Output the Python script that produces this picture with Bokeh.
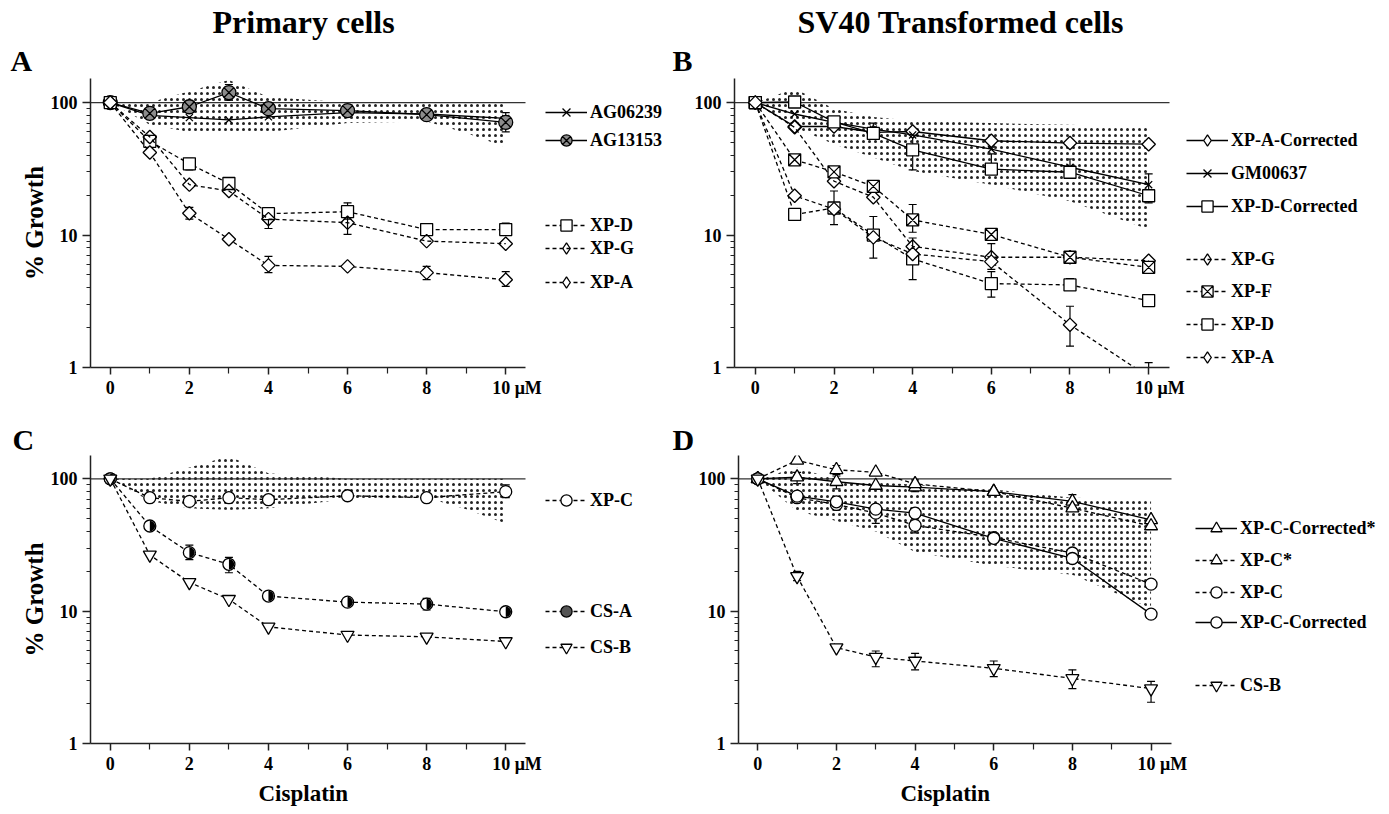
import math
from bokeh.plotting import figure
from bokeh.models import (Range1d, FixedTicker, BasicTickFormatter, Whisker, TeeHead,
                          ColumnDataSource, Legend, LegendItem, Title)
from bokeh.layouts import column, row
from bokeh.embed import file_html
from bokeh.resources import INLINE

# ---------------- data ----------------
DOSE = [0, 1, 2, 3, 4, 6, 8, 10]
X_TICKS = [0, 2, 4, 6, 8, 10]
X_MINOR = [1, 3, 5, 7, 9]
X_LABELS = {10: "\u2007\u2007 10 μM"}
Y_TICKS = [1, 10, 100]
Y_MINOR = [2, 3, 4, 5, 6, 7, 8, 9, 20, 30, 40, 50, 60, 70, 80, 90]
REF_LEVEL = 100

# normal-range bands
PRIM_X = [0, 1, 2, 3, 4, 6, 8, 9, 10]
PRIM_LO = [100, 68, 60, 58, 60, 70, 72, 59, 46]
PRIM_HI = [100, 100, 122, 148, 110, 100, 100, 100, 100]
SVB_X = [0, 1, 2, 3, 4, 6, 8, 10]
SVB_LO = [100, 65, 48.5, 38.5, 30.5, 24, 18, 11]
SVB_HI = [100, 128, 90, 78, 73, 70, 68, 65]
SVD_X = [0, 1, 2, 3, 4, 6, 8, 10]
SVD_LO = [100, 57, 48, 40, 28, 22, 18.8, 10.5]
SVD_HI = [100, 121, 99, 94, 90, 83, 72, 70]

# Panel A - primary cells
A_AG06239 = [100, 80, 77, 74, 78, 84, 82, 76]
A_AG13153 = [100, 83, 93, 119, 90, 87, 81, 71]
A_AG13153_LO = [None, None, 85, 104, None, None, None, 60]
A_AG13153_HI = [None, None, 102, 137, None, None, None, 84]
A_XPD = [100, 51, 34.5, 24.5, 14.5, 15.0, 11.0, 11.0]
A_XPD_LO = [None, None, 31, 22.5, None, 13.2, None, 10]
A_XPD_HI = [None, None, 38, 26.5, None, 17.5, None, 12.3]
A_XPG = [100, 55, 24, 21.5, 13.2, 12.4, 9.0, 8.6]
A_XPG_LO = [None, None, None, None, 11.2, 10.1, None, None]
A_XPG_HI = [None, None, None, None, 15.3, 14.8, None, None]
A_XPA = [100, 42, 14.6, 9.3, 5.9, 5.8, 5.2, 4.6]
A_XPA_LO = [None, None, 13.2, None, 5.2, None, 4.6, 4.1]
A_XPA_HI = [None, None, 16.2, None, 6.9, None, 5.8, 5.3]

# Panel B - SV40 transformed cells
B_XPACOR = [100, 66, 66, 59.5, 60.5, 51.5, 49.5, 48.5]
B_GM00637 = [100, 82, 71, 63, 57, 44.5, 32.5, 24]
B_GM_LO = [None, None, None, 57, None, None, 29, 20]
B_GM_HI = [None, None, None, 70, None, None, 37.5, 29]
B_XPDCOR = [100, 101, 71.5, 58.5, 44, 31.5, 29.8, 19.8]
B_XPDCOR_LO = [None, None, None, None, 31, 29, None, 17.5]
B_XPDCOR_HI = [None, None, None, None, 57, 41, None, 22]
B_XPG = [100, 65, 25.5, 19.3, 8.2, 6.8, 6.8, 6.4]
B_XPF = [100, 37, 30, 23.3, 13.0, 10.1, 6.8, 5.7]
B_XPF_LO = [None, None, None, None, 10.5, None, None, None]
B_XPF_HI = [None, None, None, None, 17, None, None, None]
B_XPD = [100, 14.3, 16, 10.0, 6.6, 4.3, 4.2, 3.2]
B_XPD_LO = [None, None, 12, 6.7, 4.6, 3.4, 3.9, None]
B_XPD_HI = [None, None, 21.5, 13.8, 9.5, 5.3, 4.7, None]
B_XPA = [100, 19.8, 15.7, 9.6, 7.2, 6.3, 2.1, 0.85]
B_XPA_LO = [None, None, None, None, None, 5.5, 1.45, 0.6]
B_XPA_HI = [None, None, None, None, None, 8.6, 2.9, 1.09]

# Panel C - primary cells
C_XPC = [100, 72, 67.5, 72, 69.5, 74.5, 72, 80]
C_XPC_LO = [None, None, None, None, None, None, None, 72]
C_XPC_HI = [None, None, None, None, None, None, None, 90]
C_CSA = [100, 44, 27.7, 22.6, 13.0, 11.7, 11.3, 9.9]
C_CSA_LO = [None, None, 24.5, 19.5, None, 11.0, 10.2, 9.2]
C_CSA_HI = [None, None, 31.5, 25.5, None, 12.4, 12.5, 10.6]
C_CSB = [100, 26.6, 16.5, 12.3, 7.6, 6.6, 6.4, 5.9]

# Panel D - SV40 transformed cells
D_XPCCORSTAR = [100, 103, 95, 89, 86.5, 80, 67.5, 49]
D_XPCCORSTAR_LO = [None, 92, 84, None, None, None, 60, None]
D_XPCCORSTAR_HI = [None, 112, 105, None, None, None, 76, None]
D_XPCSTAR = [100, 138, 117, 112, 91.5, 80, 60, 44]
D_XPCSTAR_LO = [None, None, 108, None, 80, None, None, None]
D_XPCSTAR_HI = [None, None, 126, None, 98, None, None, None]
D_XPC = [100, 72, 64, 55, 44.5, 36, 27.5, 16]
D_XPC_LO = [None, None, 58, 46, 39, None, None, None]
D_XPC_HI = [None, None, 72, 61, 50, None, None, None]
D_XPCCOR = [100, 74, 67, 59, 55, 35.5, 25, 9.5]
D_CSB = [100, 18.3, 5.3, 4.5, 4.2, 3.7, 3.1, 2.6]
D_CSB_LO = [None, 17, None, 3.8, 3.6, 3.2, 2.6, 2.05]
D_CSB_HI = [None, 20, None, 5.0, 4.8, 4.2, 3.6, 2.95]

# ---------------- styling ----------------
FONT = "Liberation Serif"
DASH = "4 3"
SOLID = "solid"
INK = "black"


def make_fig(fw_axis, extra, fh, x0, x1, yr, bl, bt, bb, ylabel=None):
    scale = fw_axis / (x1 - x0)
    fw = fw_axis + extra
    xr = (x0, x0 + fw / scale)
    p = figure(frame_width=fw, frame_height=fh, x_range=Range1d(*xr), y_range=Range1d(*yr),
               y_axis_type="log", output_backend="svg", toolbar_location=None,
               min_border_left=bl, min_border_right=0, min_border_top=bt, min_border_bottom=bb)
    p.outline_line_color = None
    p.grid.visible = False
    p.background_fill_color = "white"
    p.border_fill_color = "white"
    xa = p.xaxis[0]
    xa.bounds = (x0, x1)
    xa.ticker = FixedTicker(ticks=X_TICKS, minor_ticks=X_MINOR)
    xa.major_label_overrides = X_LABELS
    xa.major_tick_out = 7
    xa.major_tick_in = 0
    xa.minor_tick_out = 6
    xa.minor_tick_in = 0
    xa.major_label_standoff = 3
    ya = p.yaxis[0]
    ya.ticker = FixedTicker(ticks=Y_TICKS, minor_ticks=Y_MINOR)
    ya.formatter = BasicTickFormatter()
    ya.major_tick_out = 8
    ya.major_tick_in = 0
    ya.minor_tick_out = 4
    ya.minor_tick_in = 0
    ya.major_label_standoff = 5
    for ax in (xa, ya):
        ax.axis_line_color = "#222"
        ax.axis_line_width = 1.5
        ax.major_tick_line_color = "#222"
        ax.major_tick_line_width = 1.5
        ax.minor_tick_line_color = "#222"
        ax.minor_tick_line_width = 1.2
        ax.major_label_text_font = FONT
        ax.major_label_text_font_style = "bold"
        ax.major_label_text_font_size = "18px"
        ax.major_label_text_color = "black"
    if ylabel:
        ya.axis_label = ylabel
        ya.axis_label_text_font = FONT
        ya.axis_label_text_font_style = "bold"
        ya.axis_label_text_font_size = "25px"
        ya.axis_label_text_color = "black"
        ya.axis_label_standoff = 0
    # 100 % reference line across the axis extent
    p.segment(x0=[x0], x1=[x1], y0=[REF_LEVEL], y1=[REF_LEVEL], line_color="#333", line_width=1.3)
    return p


def add_band(p, bx, lo, hi):
    p.varea(x=bx, y1=lo, y2=hi, fill_color="white", fill_alpha=0,
            hatch_pattern="dot", hatch_color="#222", hatch_scale=6, hatch_weight=1.1,
            hatch_alpha=1.0)


def add_series(p, y, marker, dash, size=12, fill="white", lo=None, hi=None, half=False):
    src = ColumnDataSource(dict(x=DOSE, y=y))
    r_line = p.line("x", "y", source=src, line_color=INK, line_width=1.3, line_dash=dash)
    if lo is not None:
        pts = [(d, a, b) for d, a, b in zip(DOSE, lo, hi) if a is not None]
        esrc = ColumnDataSource(dict(base=[t[0] for t in pts], lower=[t[1] for t in pts],
                                     upper=[t[2] for t in pts]))
        p.add_layout(Whisker(source=esrc, base="base", lower="lower", upper="upper",
                             dimension="height", line_color=INK, line_width=1.2,
                             upper_head=TeeHead(size=8, line_width=1.2, line_color=INK),
                             lower_head=TeeHead(size=8, line_width=1.2, line_color=INK)))
    if marker == "diamond":
        # drawn as a square turned 45 degrees; the legend uses a hidden diamond twin
        p.scatter("x", "y", source=src, marker="square", angle=math.pi / 4, size=size * 0.68,
                  fill_color=fill, line_color=INK, line_width=1.3)
        proxy = p.scatter("x", "y", source=src, marker="diamond", size=size, fill_color=fill,
                          line_color=INK, line_width=1.3, visible=False)
        return [r_line, proxy]
    r_mark = p.scatter("x", "y", source=src, marker=marker, size=size, fill_color=fill,
                       line_color=INK, line_width=1.3)
    if half:
        p.wedge("x", "y", source=src, radius=5.3, radius_units="screen",
                start_angle=-math.pi / 2, end_angle=math.pi / 2, fill_color=INK, line_color=None)
        proxy = p.scatter("x", "y", source=src, marker="circle", size=12, fill_color="#555",
                          line_color=INK, line_width=1.3, visible=False)
        return [r_line, proxy]
    return [r_line, r_mark]


def add_legend(p, label, renderers, cy, gx, fh):
    H = 28
    lg = Legend(items=[LegendItem(label=label, renderers=renderers)],
                location=(gx, fh - cy - H / 2), orientation="vertical",
                border_line_alpha=0, background_fill_alpha=0, padding=0, spacing=0, margin=0,
                glyph_width=42, glyph_height=H, label_height=H, label_standoff=3,
                label_text_font=FONT, label_text_font_style="bold",
                label_text_font_size="18px", label_text_color="black")
    p.add_layout(lg)


def add_title(p, text, offset, size, standoff, side="above", valign="bottom"):
    p.add_layout(Title(text=text, align="left", offset=offset, standoff=standoff,
                       text_font=FONT, text_font_style="bold", text_font_size=size,
                       text_color="black", vertical_align=valign), side)


# ---------------- Panel A ----------------
YR_A = (1, 152)
pA = make_fig(435, 143, 289, -0.5, 10.5, YR_A, 90, 78, 48, ylabel="% Growth")
add_band(pA, PRIM_X, PRIM_LO, PRIM_HI)
a1 = add_series(pA, A_AG06239, "x", SOLID, size=10)
a2 = add_series(pA, A_AG13153, "circle_x", SOLID, size=14, fill="#8c8c8c",
                lo=A_AG13153_LO, hi=A_AG13153_HI)
a3 = add_series(pA, A_XPD, "square", DASH, size=12, lo=A_XPD_LO, hi=A_XPD_HI)
a4 = add_series(pA, A_XPG, "diamond", DASH, size=14, fill=None, lo=A_XPG_LO, hi=A_XPG_HI)
a5 = add_series(pA, A_XPA, "diamond", DASH, size=14, lo=A_XPA_LO, hi=A_XPA_HI)
for lab, rs, cy in [("AG06239", a1, 34), ("AG13153", a2, 62), ("XP-D", a3, 147),
                    ("XP-G", a4, 170), ("XP-A", a5, 204)]:
    add_legend(pA, lab, rs, cy, 455, 289)
add_title(pA, "A", -80, "30px", 4)
add_title(pA, "Primary cells", 122, "32px", 0)

# ---------------- Panel B ----------------
YR_B = (1, 152)
pB = make_fig(435, 216, 289, -0.53, 10.53, YR_B, 66, 78, 48)
add_band(pB, SVB_X, SVB_LO, SVB_HI)
b1 = add_series(pB, B_XPACOR, "diamond", SOLID, size=14)
b2 = add_series(pB, B_GM00637, "x", SOLID, size=10, lo=B_GM_LO, hi=B_GM_HI)
b3 = add_series(pB, B_XPDCOR, "square", SOLID, size=12, lo=B_XPDCOR_LO, hi=B_XPDCOR_HI)
b4 = add_series(pB, B_XPG, "diamond", DASH, size=14, fill=None)
b5 = add_series(pB, B_XPF, "square_x", DASH, size=12, lo=B_XPF_LO, hi=B_XPF_HI)
b6 = add_series(pB, B_XPD, "square", DASH, size=12, lo=B_XPD_LO, hi=B_XPD_HI)
b7 = add_series(pB, B_XPA, "diamond", DASH, size=14, lo=B_XPA_LO, hi=B_XPA_HI)
for lab, rs, cy in [("XP-A-Corrected", b1, 62), ("GM00637", b2, 95), ("XP-D-Corrected", b3, 128),
                    ("XP-G", b4, 181), ("XP-F", b5, 213), ("XP-D", b6, 246), ("XP-A", b7, 279)]:
    add_legend(pB, lab, rs, cy, 452, 289)
add_title(pB, "B", -62, "30px", 4)
add_title(pB, "SV40 Transformed cells", 63, "32px", 0)

# ---------------- Panel C ----------------
YR_C = (1, 150)
pC = make_fig(435, 143, 288, -0.5, 10.5, YR_C, 90, 40, 66, ylabel="% Growth")
add_band(pC, PRIM_X, PRIM_LO, PRIM_HI)
c1 = add_series(pC, C_XPC, "circle", DASH, size=12, lo=C_XPC_LO, hi=C_XPC_HI)
c2 = add_series(pC, C_CSA, "circle", DASH, size=12, lo=C_CSA_LO, hi=C_CSA_HI, half=True)
c3 = add_series(pC, C_CSB, "inverted_triangle", DASH, size=13)
for lab, rs, cy in [("XP-C", c1, 45), ("CS-A", c2, 156), ("CS-B", c3, 192)]:
    add_legend(pC, lab, rs, cy, 455, 288)
add_title(pC, "C", -78, "30px", 0)
add_title(pC, "Cisplatin", 168, "23px", 8, side="below", valign="top")

# ---------------- Panel D ----------------
YR_D = (1, 150)
pD = make_fig(433, 214, 288, -0.49, 10.52, YR_D, 70, 40, 66)
add_band(pD, SVD_X, SVD_LO, SVD_HI)
d1 = add_series(pD, D_XPCCORSTAR, "triangle", SOLID, size=13, lo=D_XPCCORSTAR_LO, hi=D_XPCCORSTAR_HI)
d2 = add_series(pD, D_XPCSTAR, "triangle", DASH, size=13, lo=D_XPCSTAR_LO, hi=D_XPCSTAR_HI)
d3 = add_series(pD, D_XPC, "circle", DASH, size=12, lo=D_XPC_LO, hi=D_XPC_HI)
d4 = add_series(pD, D_XPCCOR, "circle", SOLID, size=12)
d5 = add_series(pD, D_CSB, "inverted_triangle", DASH, size=13, lo=D_CSB_LO, hi=D_CSB_HI)
for lab, rs, cy in [("XP-C-Corrected*", d1, 73), ("XP-C*", d2, 105), ("XP-C", d3, 137),
                    ("XP-C-Corrected", d4, 167), ("CS-B", d5, 230)]:
    add_legend(pD, lab, rs, cy, 457, 288)
add_title(pD, "D", -66, "30px", 0)
add_title(pD, "Cisplatin", 162, "23px", 8, side="below", valign="top")

layout = column(row(pA, pB), row(pC, pD))
open("out.html", "w").write(file_html(layout, INLINE))
